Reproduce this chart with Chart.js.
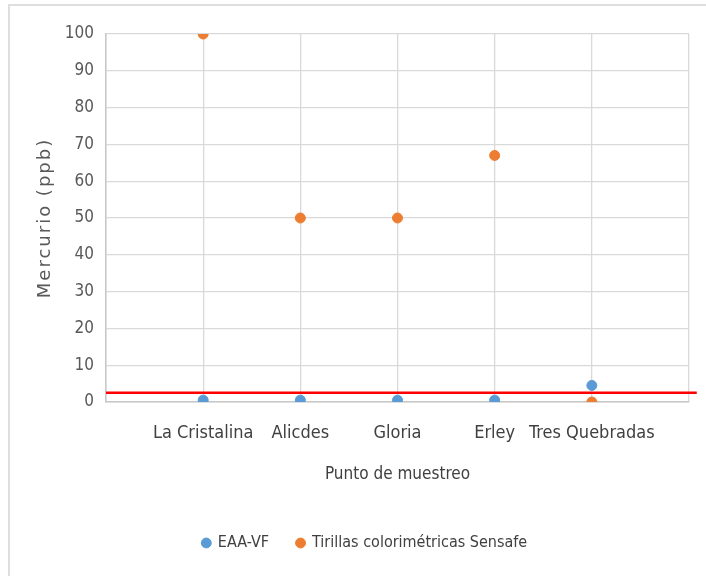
<!DOCTYPE html>
<html>
<head>
<meta charset="utf-8">
<script src="https://cdn.jsdelivr.net/npm/chart.js@4"></script>
<style>
  html, body { margin: 0; padding: 0; background: #fff; }
  #wrap { width: 706px; height: 576px; }
</style>
</head>
<body>
<div id="wrap"><canvas id="hgChart" width="706" height="576"></canvas></div>
<script>
const categories = ['La Cristalina', 'Alicdes', 'Gloria', 'Erley', 'Tres Quebradas'];
const eaaValues = [0.5, 0.5, 0.5, 0.5, 4.5];
const tirillaValues = [100, 50, 50, 67, 0];
const limitValue = 2.5;
const yTicks = [0, 10, 20, 30, 40, 50, 60, 70, 80, 90, 100];

const narrow = "'Liberation Sans Narrow', 'DejaVu Sans Condensed', sans-serif";

// light frame around the figure
const framePlugin = {
  id: 'frame',
  beforeDraw(chart) {
    const c = chart.ctx;
    c.save();
    c.strokeStyle = '#dedede';
    c.lineWidth = 2;
    c.strokeRect(9, 5, 760, 640);
    c.restore();
  }
};

const toPoints = vals => vals.map((v, i) => ({ x: i + 1, y: v }));

const ctx = document.getElementById('hgChart').getContext('2d');
const chart = new Chart(ctx, {
  type: 'scatter',
  data: {
    datasets: [{
      label: 'EAA-VF',
      data: toPoints(eaaValues),
      backgroundColor: '#5B9BD5',
      borderColor: '#5B9BD5',
      pointRadius: 5,
      pointHoverRadius: 5
    }, {
      label: 'Tirillas colorimétricas Sensafe',
      data: toPoints(tirillaValues),
      backgroundColor: '#ED7D31',
      borderColor: '#ED7D31',
      pointRadius: 5,
      pointHoverRadius: 5
    }, {
      label: 'limite',
      type: 'line',
      data: [{ x: 0, y: limitValue }, { x: categories.length + 1.08, y: limitValue }],
      borderColor: '#FF0000',
      borderWidth: 2.5,
      pointRadius: 0,
      clip: false
    }]
  },
  options: {
    responsive: false,
    animation: false,
    layout: { padding: { left: 41, right: 17, top: 34, bottom: 15 } },
    plugins: {
      tooltip: { enabled: false },
      legend: {
        position: 'bottom',
        labels: {
          usePointStyle: true,
          pointStyle: 'circle',
          boxWidth: 7,
          boxHeight: 7,
          padding: 28,
          color: '#404040',
          font: { family: narrow, size: 16 },
          filter: item => item.datasetIndex < 2
        }
      }
    },
    scales: {
      x: {
        type: 'linear',
        min: 0,
        max: categories.length + 1,
        afterFit: s => { s.height = 105; },
        afterBuildTicks: s => { s.ticks = Array.from({ length: categories.length + 2 }, (_, i) => ({ value: i })); },
        ticks: {
          padding: 4,
          autoSkip: false,
          maxRotation: 0,
          color: '#404040',
          font: { family: narrow, size: 18 },
          callback: v => categories[v - 1] || ''
        },
        grid: { color: '#d9d9d9', lineWidth: 1.3, drawTicks: true, tickLength: 17, tickColor: 'rgba(0,0,0,0)' },
        border: { color: '#c8c8c8', width: 1.5 },
        title: {
          display: true,
          text: 'Punto de muestreo',
          color: '#404040',
          font: { family: narrow, size: 17 },
          padding: { top: 0, bottom: 22 }
        }
      },
      y: {
        min: 0,
        max: 100,
        afterFit: s => { s.width = 65; },
        afterBuildTicks: s => { s.ticks = yTicks.map(v => ({ value: v })); },
        ticks: {
          padding: 12,
          color: '#595959',
          font: { family: narrow, size: 17 }
        },
        grid: { color: '#d9d9d9', lineWidth: 1.3, drawTicks: false },
        border: { color: '#c8c8c8', width: 1.5 },
        title: {
          display: true,
          text: 'Mercurio (ppb)',
          color: '#595959',
          font: { family: "'DejaVu Sans', sans-serif", size: 18 },
          padding: { top: -6, bottom: 0 }
        }
      }
    }
  },
  plugins: [framePlugin]
});

// the y title in the original is widely spaced
const yScale = chart.scales.y;
const baseDrawTitle = yScale.drawTitle.bind(yScale);
yScale.drawTitle = function () {
  this.ctx.save();
  this.ctx.letterSpacing = '2px';
  baseDrawTitle();
  this.ctx.restore();
};
chart.draw();
</script>
</body>
</html>
